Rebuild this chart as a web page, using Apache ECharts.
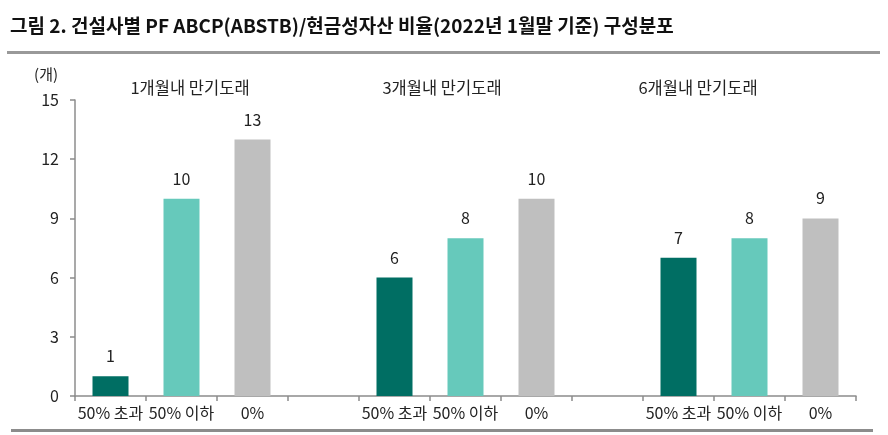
<!DOCTYPE html>
<html>
<head>
<meta charset="utf-8">
<script src="https://cdn.jsdelivr.net/npm/echarts@6/dist/echarts.min.js"></script>
<style>
  html, body { margin: 0; padding: 0; background: #fff; }
  #chart { width: 888px; height: 435px; }
</style>
</head>
<body>
<div id="chart"></div>
<script>
// 만기 구간별 그룹
const groupNames = ['1개월내 만기도래', '3개월내 만기도래', '6개월내 만기도래'];
// 비율 구간
const ratioLabels = ['50% 초과', '50% 이하', '0%'];
// 건설사 수 (개)
const over50 = [1, 6, 7];
const under50 = [10, 8, 8];
const zeroPct = [13, 10, 9];
const barColors = ['#006E63', '#66C9BB', '#BFBFBF'];

// 그룹 사이에 빈 칸 하나씩 넣어서 카테고리 구성
let categories = [];
let barData = [];
groupNames.forEach(function (g, gi) {
  if (gi > 0) {
    categories.push(' '.repeat(gi));
    barData.push('-');
  }
  [over50, under50, zeroPct].forEach(function (arr, k) {
    categories.push(ratioLabels[k]);
    barData.push({ value: arr[gi], itemStyle: { color: barColors[k] } });
  });
});

const font = '"Noto Sans CJK KR", "Noto Sans", sans-serif';
let chart = echarts.init(document.getElementById('chart'));

let option = {
  animation: false,
  textStyle: { fontFamily: font },
  grid: { left: 75, right: 32, top: 100, bottom: 39 },
  xAxis: {
    type: 'category',
    data: categories,
    axisLine: { lineStyle: { color: '#8c8c8c', width: 1.5 } },
    axisTick: { show: true, interval: 0, length: 5, lineStyle: { color: '#8c8c8c', width: 1.5 } },
    axisLabel: { interval: 0, color: '#222', fontSize: 16, margin: 9, fontFamily: font }
  },
  yAxis: {
    type: 'value',
    min: 0,
    max: 15,
    interval: 3,
    name: '(개)',
    nameLocation: 'end',
    nameGap: 18,
    nameTextStyle: { color: '#222', fontSize: 15, align: 'right', padding: [0, 17, 0, 0], fontFamily: font },
    axisLine: { show: true, lineStyle: { color: '#8c8c8c', width: 1.5 } },
    axisTick: { show: true, length: 5, lineStyle: { color: '#8c8c8c', width: 1.5 } },
    axisLabel: { color: '#222', fontSize: 16, margin: 16, fontFamily: font },
    splitLine: { show: false }
  },
  series: [{
    type: 'bar',
    data: barData,
    barWidth: 36,
    label: {
      show: true,
      position: 'top',
      distance: 12,
      color: '#222',
      fontSize: 16,
      fontFamily: font
    }
  }],
  graphic: [
    {
      type: 'text', left: 10, top: 16,
      style: {
        text: '그림 2. 건설사별 PF ABCP(ABSTB)/현금성자산 비율(2022년 1월말 기준) 구성분포',
        font: 'bold 19px ' + font, fill: '#111'
      }
    },
    { type: 'rect', shape: { x: 7, y: 51, width: 873, height: 3 }, style: { fill: '#999' } },
    { type: 'rect', shape: { x: 11, y: 429, width: 862, height: 3 }, style: { fill: '#8c8c8c' } },
    { type: 'text', x: 190, y: 88, style: { text: groupNames[0], font: '16.5px ' + font, fill: '#222', align: 'center', verticalAlign: 'middle' } },
    { type: 'text', x: 442, y: 88, style: { text: groupNames[1], font: '16.5px ' + font, fill: '#222', align: 'center', verticalAlign: 'middle' } },
    { type: 'text', x: 698, y: 88, style: { text: groupNames[2], font: '16.5px ' + font, fill: '#222', align: 'center', verticalAlign: 'middle' } }
  ]
};

chart.setOption(option);
</script>
</body>
</html>
